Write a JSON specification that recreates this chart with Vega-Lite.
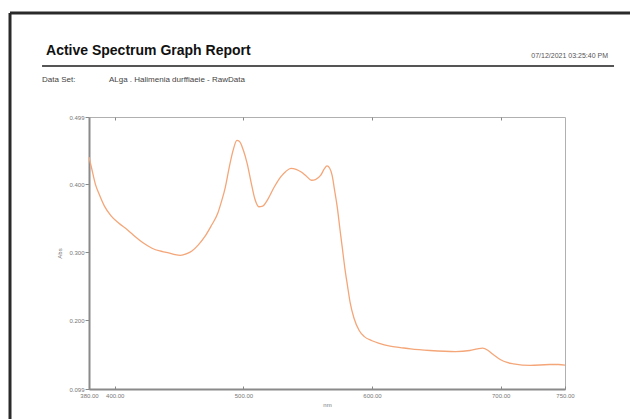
{
  "$schema": "https://vega.github.io/schema/vega-lite/v6.json",
  "width": 476,
  "height": 272,
  "autosize": {"type": "none"},
  "padding": {"left": 89, "top": 117, "right": 65, "bottom": 30},
  "background": "white",
  "config": {
    "font": "Liberation Sans",
    "view": {"stroke": "#b0b0b0", "strokeWidth": 1},
    "axis": {"grid": false, "labelFont": "Liberation Sans", "titleFont": "Liberation Sans"}
  },
  "datasets": {
    "spectrum": [
      {"nm": 380, "abs": 0.440}, {"nm": 382, "abs": 0.424}, {"nm": 385, "abs": 0.400},
      {"nm": 388, "abs": 0.385}, {"nm": 392, "abs": 0.368}, {"nm": 397, "abs": 0.354},
      {"nm": 403, "abs": 0.343}, {"nm": 410, "abs": 0.333}, {"nm": 416, "abs": 0.323},
      {"nm": 422, "abs": 0.314}, {"nm": 429, "abs": 0.306}, {"nm": 435, "abs": 0.302},
      {"nm": 440, "abs": 0.300}, {"nm": 446, "abs": 0.297}, {"nm": 451, "abs": 0.2955},
      {"nm": 456, "abs": 0.298}, {"nm": 460, "abs": 0.302}, {"nm": 465, "abs": 0.311},
      {"nm": 470, "abs": 0.323}, {"nm": 475, "abs": 0.339}, {"nm": 480, "abs": 0.357},
      {"nm": 483, "abs": 0.375}, {"nm": 486, "abs": 0.396}, {"nm": 489, "abs": 0.425},
      {"nm": 492, "abs": 0.450}, {"nm": 495, "abs": 0.4645}, {"nm": 497, "abs": 0.463},
      {"nm": 500, "abs": 0.450}, {"nm": 503, "abs": 0.430}, {"nm": 506, "abs": 0.403},
      {"nm": 509, "abs": 0.378}, {"nm": 512, "abs": 0.367}, {"nm": 515, "abs": 0.368},
      {"nm": 519, "abs": 0.378}, {"nm": 524, "abs": 0.396}, {"nm": 529, "abs": 0.411},
      {"nm": 533, "abs": 0.419}, {"nm": 537, "abs": 0.4235}, {"nm": 541, "abs": 0.422},
      {"nm": 545, "abs": 0.418}, {"nm": 549, "abs": 0.412}, {"nm": 553, "abs": 0.406},
      {"nm": 556, "abs": 0.407}, {"nm": 560, "abs": 0.413}, {"nm": 563, "abs": 0.423},
      {"nm": 565, "abs": 0.427}, {"nm": 567, "abs": 0.424}, {"nm": 569, "abs": 0.413},
      {"nm": 571, "abs": 0.390}, {"nm": 573, "abs": 0.366}, {"nm": 575, "abs": 0.335},
      {"nm": 577, "abs": 0.305}, {"nm": 579, "abs": 0.275}, {"nm": 581, "abs": 0.250},
      {"nm": 583, "abs": 0.226}, {"nm": 586, "abs": 0.203}, {"nm": 590, "abs": 0.185},
      {"nm": 594, "abs": 0.176}, {"nm": 600, "abs": 0.170}, {"nm": 605, "abs": 0.1665},
      {"nm": 614, "abs": 0.162}, {"nm": 622, "abs": 0.160}, {"nm": 630, "abs": 0.158},
      {"nm": 645, "abs": 0.1556}, {"nm": 665, "abs": 0.154}, {"nm": 676, "abs": 0.1556},
      {"nm": 682, "abs": 0.158}, {"nm": 686, "abs": 0.159}, {"nm": 690, "abs": 0.156},
      {"nm": 694, "abs": 0.150}, {"nm": 700, "abs": 0.142}, {"nm": 705, "abs": 0.138},
      {"nm": 710, "abs": 0.136}, {"nm": 723, "abs": 0.1336}, {"nm": 738, "abs": 0.135},
      {"nm": 745, "abs": 0.135}, {"nm": 750, "abs": 0.134}
    ],
    "header": [
      {"title": "Active Spectrum Graph Report", "stamp": "07/12/2021   03:25:40 PM", "setLabel": "Data Set:", "setName": "ALga . Halimenia durffiaeie - RawData"}
    ]
  },
  "resolve": {"axis": {"x": "independent"}},
  "layer": [
    {
      "data": {"name": "spectrum"},
      "mark": {"type": "line", "color": "#f4a679", "strokeWidth": 1.3, "interpolate": "monotone", "clip": true},
      "encoding": {
        "x": {
          "field": "nm", "type": "quantitative",
          "scale": {"domain": [380, 750], "nice": false, "zero": false},
          "axis": {
            "orient": "bottom", "title": "nm", "values": [380, 400, 500, 600, 700, 750], "format": ".2f",
            "labelFontSize": 6, "labelColor": "#777", "labelPadding": 6, "labelFlush": false,
            "tickSize": -3, "tickColor": "#888", "domainColor": "#8a8a8a", "domainWidth": 2,
            "titleFontSize": 6, "titleColor": "#777", "titleFontWeight": "normal", "titlePadding": 3
          }
        },
        "y": {
          "field": "abs", "type": "quantitative",
          "scale": {"domain": [0.099, 0.499], "nice": false, "zero": false},
          "axis": {
            "title": "Abs", "values": [0.099, 0.2, 0.3, 0.4, 0.499], "format": ".3f",
            "labelFontSize": 6, "labelColor": "#777", "labelPadding": 1, "labelFlush": false,
            "tickSize": 4, "tickColor": "#888", "domainColor": "#8a8a8a", "domainWidth": 2,
            "titleFontSize": 6, "titleColor": "#777", "titleFontWeight": "normal", "titlePadding": 6
          }
        }
      }
    },
    {
      "data": {"name": "header"},
      "mark": {"type": "rule", "color": "#2a2a2a", "strokeWidth": 3, "clip": false},
      "encoding": {
        "x": {"datum": 318.6, "type": "quantitative", "axis": {"orient": "top", "labels": false, "domain": false, "title": null, "values": [400, 500, 600, 700], "tickSize": -3, "tickColor": "#888"}},
        "y": {"datum": 0.652, "type": "quantitative"},
        "y2": {"datum": 0.0}
      }
    },
    {
      "data": {"name": "header"},
      "mark": {"type": "rule", "color": "#2a2a2a", "strokeWidth": 3, "clip": false},
      "encoding": {
        "x": {"datum": 318.6, "type": "quantitative", "axis": null},
        "x2": {"datum": 830},
        "y": {"datum": 0.652, "type": "quantitative"}
      }
    },
    {
      "data": {"name": "header"},
      "mark": {"type": "rule", "color": "#555", "strokeWidth": 2, "clip": false},
      "encoding": {
        "x": {"datum": 343.5, "type": "quantitative", "axis": null},
        "x2": {"datum": 788.1},
        "y": {"datum": 0.574, "type": "quantitative"}
      }
    },
    {
      "data": {"name": "header"},
      "mark": {"type": "text", "align": "left", "baseline": "alphabetic", "fontSize": 14, "fontWeight": "bold", "color": "#111", "font": "Liberation Sans", "clip": false},
      "encoding": {
        "x": {"datum": 346.6, "type": "quantitative", "axis": null},
        "y": {"datum": 0.5902, "type": "quantitative"},
        "text": {"field": "title"}
      }
    },
    {
      "data": {"name": "header"},
      "mark": {"type": "text", "align": "right", "baseline": "alphabetic", "fontSize": 7, "color": "#555", "font": "Liberation Sans", "clip": false},
      "encoding": {
        "x": {"datum": 783.4, "type": "quantitative", "axis": null},
        "y": {"datum": 0.586, "type": "quantitative"},
        "text": {"field": "stamp"}
      }
    },
    {
      "data": {"name": "header"},
      "mark": {"type": "text", "align": "left", "baseline": "alphabetic", "fontSize": 8, "color": "#444", "font": "Liberation Sans", "clip": false},
      "encoding": {
        "x": {"datum": 343.5, "type": "quantitative", "axis": null},
        "y": {"datum": 0.5505, "type": "quantitative"},
        "text": {"field": "setLabel"}
      }
    },
    {
      "data": {"name": "header"},
      "mark": {"type": "text", "align": "left", "baseline": "alphabetic", "fontSize": 8, "color": "#444", "font": "Liberation Sans", "clip": false},
      "encoding": {
        "x": {"datum": 395.5, "type": "quantitative", "axis": null},
        "y": {"datum": 0.5505, "type": "quantitative"},
        "text": {"field": "setName"}
      }
    }
  ]
}
